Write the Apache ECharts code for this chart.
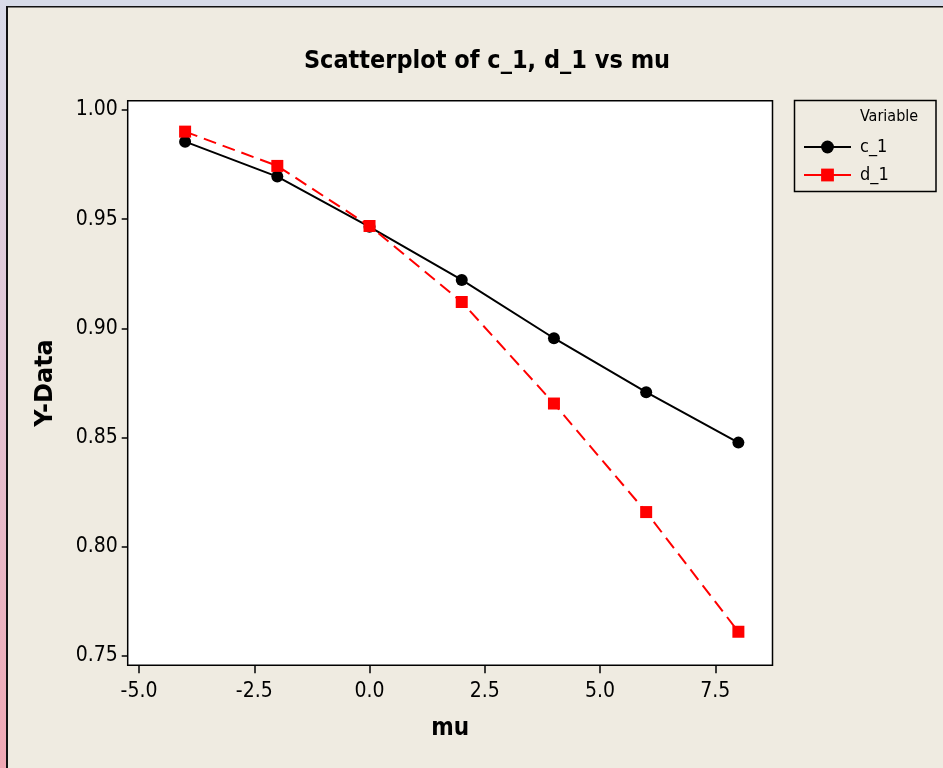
<!DOCTYPE html>
<html>
<head>
<meta charset="utf-8">
<script src="https://cdn.jsdelivr.net/npm/echarts@6/dist/echarts.min.js"></script>
<style>
html,body{margin:0;padding:0;background:#EFEBE1;}
#chart{width:943px;height:768px;}
</style>
</head>
<body>
<div id="chart"></div>
<script>
const mu = [-4, -2, 0, 2, 4, 6, 8];
const c1 = [0.9855, 0.9695, 0.9465, 0.9222, 0.8955, 0.8708, 0.8477];
const d1 = [0.9901, 0.9744, 0.9469, 0.9121, 0.8656, 0.8159, 0.7611];
const xTicks = [-5.0, -2.5, 0.0, 2.5, 5.0, 7.5];
const yTicks = [0.75, 0.80, 0.85, 0.90, 0.95, 1.00];
const seriesNames = ['c_1', 'd_1'];
const titleText = 'Scatterplot of c_1, d_1 vs mu';
const xName = 'mu';
const yName = 'Y-Data';
const legendTitle = 'Variable';

const NARROW = '"DejaVu Sans Condensed", "Liberation Sans Narrow", "DejaVu Sans", sans-serif';

const chart = echarts.init(document.getElementById('chart'), null, {renderer: 'canvas'});
const option = {
  backgroundColor: '#EFEBE1',
  animation: false,
  title: {
    text: titleText,
    left: 482, textAlign: 'center', top: 44,
    textStyle: {fontFamily: NARROW, fontWeight: 'bold', fontSize: 25, color: '#000'}
  },
  grid: {
    left: 127.7, top: 100.7, right: 170.5, bottom: 102.7,
    show: true, backgroundColor: '#ffffff', borderColor: '#000', borderWidth: 1.5,
    containLabel: false
  },
  xAxis: {
    type: 'value', min: -5.245, max: 8.74,
    name: xName, nameLocation: 'middle', nameGap: 51,
    nameTextStyle: {fontFamily: NARROW, fontWeight: 'bold', fontSize: 24, color: '#000'},
    axisLine: {show: false, onZero: false},
    splitLine: {show: false},
    axisTick: {show: true, length: 8, inside: false, customValues: xTicks, lineStyle: {color: '#000', width: 1.5}},
    axisLabel: {customValues: xTicks, margin: 16, fontFamily: NARROW, fontSize: 21, color: '#000',
      formatter: v => Number(v).toFixed(1)}
  },
  yAxis: {
    type: 'value', min: 0.74574, max: 1.00426,
    name: yName, nameLocation: 'middle', nameGap: 70, nameRotate: 90,
    nameTextStyle: {fontFamily: '"DejaVu Sans", sans-serif', fontWeight: 'bold', fontSize: 24, color: '#000'},
    axisLine: {show: false, onZero: false},
    splitLine: {show: false},
    axisTick: {show: true, length: 6, inside: false, customValues: yTicks, lineStyle: {color: '#000', width: 1.5}},
    axisLabel: {customValues: yTicks, margin: 10, fontFamily: NARROW, fontSize: 21, color: '#000',
      formatter: v => Number(v).toFixed(2)}
  },
  legend: {
    orient: 'vertical', left: 803, top: 138, padding: 0,
    itemWidth: 47, itemHeight: 16, itemGap: 10,
    data: seriesNames,
    textStyle: {fontFamily: NARROW, fontSize: 18, color: '#000', padding: [0, 0, 0, 4]},
    lineStyle: {type: 'solid', width: 2}
  },
  graphic: [
    {type: 'rect', shape: {x: 0, y: 0, width: 943, height: 6}, style: {fill: '#D7DBE8'}, silent: true},
    {type: 'rect', shape: {x: 0, y: 0, width: 6, height: 768}, silent: true,
      style: {fill: new echarts.graphic.LinearGradient(0, 0, 0, 1, [
        {offset: 0, color: '#D9DBE9'}, {offset: 0.5, color: '#E3C4D3'}, {offset: 1, color: '#F0A8B4'}])}},
    {type: 'rect', shape: {x: 6, y: 6, width: 937, height: 1.5}, style: {fill: '#111'}, silent: true},
    {type: 'rect', shape: {x: 6, y: 6, width: 2, height: 762}, style: {fill: '#111'}, silent: true},
    {type: 'rect', shape: {x: 794.5, y: 100.5, width: 141.5, height: 91}, silent: true,
      style: {fill: 'none', stroke: '#000', lineWidth: 1.5}},
    {type: 'text', left: 860, top: 109, silent: true,
      style: {text: legendTitle, fontFamily: NARROW, fontSize: 16, fill: '#000'}}
  ],
  series: [
    {
      name: seriesNames[0], type: 'line',
      data: mu.map((x, i) => [x, c1[i]]),
      symbol: 'circle', symbolSize: 12,
      itemStyle: {color: '#000'},
      lineStyle: {color: '#000', width: 2, type: 'solid'}
    },
    {
      name: seriesNames[1], type: 'line',
      data: mu.map((x, i) => [x, d1[i]]),
      symbol: 'rect', symbolSize: 12,
      itemStyle: {color: '#FF0000'},
      lineStyle: {color: '#FF0000', width: 2, type: [13, 7]}
    }
  ]
};
chart.setOption(option);
</script>
</body>
</html>
